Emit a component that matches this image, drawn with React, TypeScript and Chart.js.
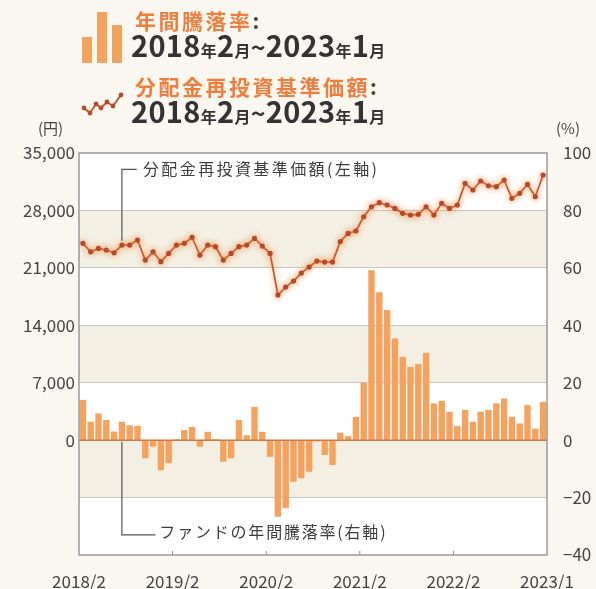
import React, { useEffect, useRef } from 'react';
import { Chart, registerables } from 'chart.js';

Chart.register(...registerables);

// ---- data ----
const xTickPositions = [0, 12, 24, 36, 48, 60];
const xTickLabels = ['2018/2', '2019/2', '2020/2', '2021/2', '2022/2', '2023/1'];

// 年間騰落率 (%), monthly 2018/2 .. 2023/1
const barValues = [
  14, 6.4, 9.3, 7, 3, 6.4, 5.2, 5, -6.3, -2.3,
  -10.5, -8, 0.3, 3.5, 4.6, -2.3, 2.9, 0.3, -7.5, -6.3,
  7, 1.7, 11.6, 2.9, -5.8, -26.7, -23.7, -14.5, -13.3, -11,
  -0.5, -5.2, -8.7, 2.6, 1.4, 8.1, 20, 59.2, 51.5, 45.3,
  35.4, 29, 25.5, 26.5, 30.4, 12.8, 13.7, 9.9, 4.9, 10.5,
  6.4, 9.9, 10.5, 12.8, 14.5, 8.1, 5.8, 12.2, 4, 13.3,
];

// 分配金再投資基準価額 (円)
const navValues = [
  23990, 22960, 23370, 23170, 22840, 23780, 23780, 24390, 21950, 22960,
  21750, 22760, 23780, 23990, 24720, 22560, 23780, 23580, 21950, 22760,
  23580, 23780, 24590, 23660, 22760, 17680, 18660, 19390, 20370, 21100,
  21830, 21700, 21700, 24200, 25200, 25490, 27230, 28450, 28940, 28660,
  28250, 27650, 27440, 27520, 28450, 27440, 28860, 28250, 28660, 31300,
  30490, 31590, 31010, 30890, 31710, 29480, 30080, 31180, 29670, 32320,
];

const leftMin = -14000;
const leftMax = 35000;
const leftStep = 7000;
const rightMin = -40;
const rightMax = 100;
const rightStep = 20;
const bandRanges = [[21000, 28000], [7000, 14000], [-7000, 0]];

const barLegendLabel = '年間騰落率';
const lineLegendLabel = '分配金再投資基準価額';
const lineNote = '分配金再投資基準価額(左軸)';
const barNote = 'ファンドの年間騰落率(右軸)';

const FONT = '"Noto Sans CJK JP", "Noto Sans", sans-serif';
const ORANGE = '#ef7d3e';

const decorPlugin = {
  id: 'decor',
  beforeDraw(chart: any) {
    const { ctx, chartArea: a, scales } = chart;
    const yL = scales.yL;
    ctx.save();
    ctx.fillStyle = '#ffffff';
    ctx.fillRect(a.left, a.top, a.width, a.height);
    ctx.fillStyle = '#f3efe3';
    for (const [lo, hi] of bandRanges) {
      const y1 = yL.getPixelForValue(hi);
      const y2 = yL.getPixelForValue(lo);
      ctx.fillRect(a.left, y1, a.width, y2 - y1);
    }
    ctx.restore();
  },
  beforeDatasetDraw(chart: any, args: any) {
    if (args.meta.type === 'line') {
      const ctx = chart.ctx;
      ctx.save();
      ctx.shadowColor = 'rgba(248,150,80,0.95)';
      ctx.shadowBlur = 6;
    }
  },
  afterDatasetDraw(chart: any, args: any) {
    if (args.meta.type === 'line') chart.ctx.restore();
  },
  afterDatasetsDraw(chart: any) {
    const { ctx, chartArea: a, scales } = chart;
    const x = scales.x;
    const yL = scales.yL;
    const yR = scales.yR;
    ctx.save();
    // zero line
    const y0 = yR.getPixelForValue(0);
    ctx.strokeStyle = '#cf7a45';
    ctx.lineWidth = 1.5;
    ctx.beginPath();
    ctx.moveTo(a.left, y0);
    ctx.lineTo(a.right, y0);
    ctx.stroke();
    // frame
    ctx.strokeStyle = '#9a9a9a';
    ctx.lineWidth = 1.5;
    ctx.strokeRect(a.left, a.top, a.width, a.height);
    // small tick marks
    ctx.strokeStyle = '#8a8a8a';
    ctx.lineWidth = 1;
    for (const v of xTickPositions.slice(1, -1)) {
      const px = x.getPixelForValue(v);
      ctx.beginPath();
      ctx.moveTo(px, a.bottom);
      ctx.lineTo(px, a.bottom - 4);
      ctx.stroke();
    }
    // leader lines
    const lx = x.getPixelForValue(5.5);
    ctx.strokeStyle = '#555';
    ctx.lineWidth = 1.2;
    const ty = yL.getPixelForValue(33000);
    ctx.beginPath();
    ctx.moveTo(x.getPixelForValue(7.4), ty);
    ctx.lineTo(lx, ty);
    ctx.lineTo(lx, yL.getPixelForValue(24300));
    ctx.stroke();
    const by = yR.getPixelForValue(-33);
    ctx.beginPath();
    ctx.moveTo(lx, yR.getPixelForValue(-0.6));
    ctx.lineTo(lx, by);
    ctx.lineTo(x.getPixelForValue(9.8), by);
    ctx.stroke();
    // notes
    ctx.fillStyle = '#3d3d3d';
    ctx.font = `16px ${FONT}`;
    ctx.textBaseline = 'middle';
    ctx.textAlign = 'left';
    try { (ctx as any).letterSpacing = '2.4px'; } catch (e) {}
    ctx.fillText(lineNote, x.getPixelForValue(8.2), ty);
    try { (ctx as any).letterSpacing = '1.8px'; } catch (e) {}
    ctx.fillText(barNote, x.getPixelForValue(10.3), yR.getPixelForValue(-32));
    ctx.restore();
  },
};

const DateLine = ({ top }: { top: number }) => {
  const big = { fontSize: 29 };
  const small = { fontSize: 16 };
  return (
    <div
      style={{
        position: 'absolute', left: 131, top, fontFamily: FONT, fontWeight: 700,
        color: '#333', whiteSpace: 'nowrap', lineHeight: 1, letterSpacing: 0.3,
      }}
    >
      <span style={big}>2018</span><span style={small}>年</span>
      <span style={big}>2</span><span style={small}>月</span>
      <span style={{ fontSize: 25 }}>~</span>
      <span style={big}>2023</span><span style={small}>年</span>
      <span style={big}>1</span><span style={small}>月</span>
    </div>
  );
};

const LegendLabel = ({ top, text }: { top: number; text: string }) => (
  <div style={{ position: 'absolute', left: 135, top, fontFamily: FONT, fontWeight: 700, fontSize: 21, lineHeight: 1, letterSpacing: 2.5, whiteSpace: 'nowrap' }}>
    <span style={{ color: ORANGE }}>{text}</span><span style={{ color: '#444' }}>:</span>
  </div>
);

export default function App() {
  const canvasRef = useRef<HTMLCanvasElement | null>(null);

  useEffect(() => {
    if (!canvasRef.current) return;
    const chart = new Chart(canvasRef.current, {
      data: {
        datasets: [
          {
            type: 'bar',
            data: barValues.map((v, i) => ({ x: i + 0.5, y: v })),
            yAxisID: 'yR',
            backgroundColor: '#f4a25e',
            categoryPercentage: 1,
            barPercentage: 0.82,
            order: 2,
          } as any,
          {
            type: 'line',
            data: navValues.map((v, i) => ({ x: i + 0.5, y: v })),
            yAxisID: 'yL',
            borderColor: '#c9582e',
            borderWidth: 1.8,
            pointRadius: 2.6,
            pointBackgroundColor: '#b54a2b',
            pointBorderWidth: 0,
            tension: 0,
            order: 1,
          } as any,
        ],
      },
      options: {
        animation: false,
        responsive: false,
        layout: { padding: { top: 153, left: 0, right: 0, bottom: 0 } },
        plugins: { legend: { display: false }, tooltip: { enabled: false } },
        scales: {
          x: {
            type: 'linear',
            min: 0,
            max: 60,
            offset: false,
            afterBuildTicks: (s: any) => { s.ticks = xTickPositions.map((v) => ({ value: v })); },
            afterFit: (s: any) => { s.height = 34; },
            ticks: {
              callback: (_v: any, i: number) => xTickLabels[i] ?? '',
              font: { size: 17, family: FONT },
              color: '#444',
              maxRotation: 0,
              autoSkip: false,
              padding: 8,
            },
            grid: { display: false, offset: false },
            border: { display: false },
          },
          yL: {
            type: 'linear',
            position: 'left',
            min: leftMin,
            max: leftMax,
            afterFit: (s: any) => { s.width = 79; },
            ticks: {
              stepSize: leftStep,
              callback: (v: any) => (v < 0 ? '' : Number(v).toLocaleString('en-US')),
              font: { size: 17, family: FONT },
              color: '#444',
              padding: 4,
            },
            grid: {
              drawTicks: false,
              color: (c: any) => (c.tick && (c.tick.value === 0 || c.tick.value === leftMax || c.tick.value === leftMin) ? 'rgba(0,0,0,0)' : '#c9c7c0'),
              lineWidth: 1,
            },
            border: { display: false },
          },
          yR: {
            type: 'linear',
            position: 'right',
            min: rightMin,
            max: rightMax,
            afterFit: (s: any) => { s.width = 49; },
            ticks: {
              stepSize: rightStep,
              callback: (v: any) => (v < 0 ? '−' + Math.abs(v) : String(v)),
              font: { size: 17, family: FONT },
              color: '#444',
              padding: 8,
            },
            grid: { display: false },
            border: { display: false },
          },
        },
      } as any,
      plugins: [decorPlugin],
    });
    return () => chart.destroy();
  }, []);

  const iconPts = [[84, 108], [90, 113], [96, 104], [101, 108], [107, 102], [113, 106], [121, 95]];

  return (
    <div style={{ position: 'fixed', left: 0, top: 0, width: 596, height: 589, background: '#faf7f0', overflow: 'hidden' }}>
      <canvas ref={canvasRef} width={596} height={589} style={{ position: 'absolute', left: 0, top: 0 }} />
      {/* bar legend icon */}
      <div style={{ position: 'absolute', left: 82, top: 37, width: 10, height: 26, background: '#f2a35e' }} />
      <div style={{ position: 'absolute', left: 97, top: 12, width: 10, height: 51, background: '#f2a35e' }} />
      <div style={{ position: 'absolute', left: 112, top: 25, width: 10, height: 38, background: '#f2a35e' }} />
      <LegendLabel top={10} text={barLegendLabel} />
      <DateLine top={30} />
      {/* line legend icon */}
      <svg style={{ position: 'absolute', left: 0, top: 0 }} width={140} height={130}>
        <polyline points={iconPts.map((p) => p.join(',')).join(' ')} fill="none" stroke="#c9582e" strokeWidth={2} />
        {iconPts.map(([cx, cy], i) => (
          <circle key={i} cx={cx} cy={cy} r={2.4} fill="#b54a2b" />
        ))}
      </svg>
      <LegendLabel top={76} text={lineLegendLabel} />
      <DateLine top={96} />
      <div style={{ position: 'absolute', left: 38, top: 120, fontFamily: FONT, fontSize: 15, color: '#444', lineHeight: 1 }}>(円)</div>
      <div style={{ position: 'absolute', left: 556, top: 120, fontFamily: FONT, fontSize: 15, color: '#444', lineHeight: 1 }}>(%)</div>
    </div>
  );
}
